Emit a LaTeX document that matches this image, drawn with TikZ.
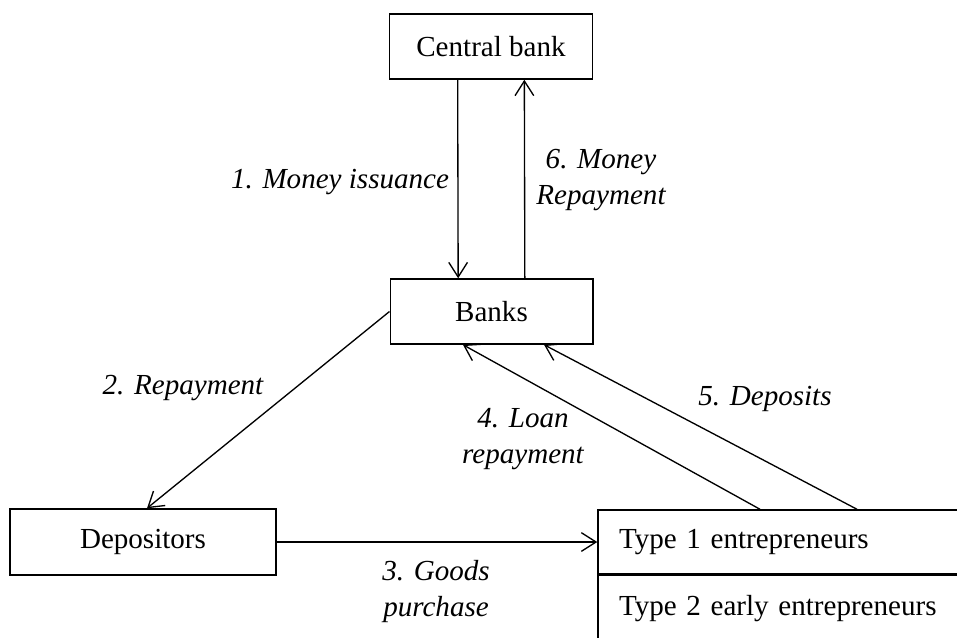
\documentclass[tikz,border=0pt]{standalone}
\usepackage{fontspec}
\setmainfont{Liberation Serif}
\usetikzlibrary{arrows.meta}
\begin{document}
\begin{tikzpicture}[x=0.75pt,y=-0.75pt,
  box/.style={draw,line width=1.1pt,rectangle,inner sep=0pt,font=\fontsize{21.8}{27}\selectfont},
  arr/.style={line width=1pt,-{Straight Barb[length=11pt,width=14pt,line width=1pt]}},
  lbl/.style={font=\fontsize{21.8}{27}\selectfont\itshape,align=center,inner sep=0pt}]
\useasboundingbox (0,0) rectangle (957,637);
\node[box,minimum width=151.9pt,minimum height=48.75pt] (cb) at (491,46.5) {Central bank};
\node[box,minimum width=151.9pt,minimum height=48.75pt] (banks) at (491.5,311.5) {Banks};
\node[box,minimum width=199.5pt,minimum height=49.5pt] (dep) at (143,542) {Depositors};
\node[box,minimum width=271.5pt,minimum height=48pt,text width=240pt,align=left,inner xsep=15.75pt] (t1) at (779,542) {Type 1 entrepreneurs};
\node[box,minimum width=271.5pt,minimum height=49.5pt,text width=240pt,align=left,inner xsep=15.75pt,anchor=north] (t2) at (t1.south) {Type 2 early entrepreneurs};

\draw[arr] ([xshift=-25pt]cb.south) -- ([xshift=-25pt]banks.north);
\draw[arr] ([xshift=25pt]banks.north) -- ([xshift=25pt]cb.south);
\draw[arr] (banks.west) -- ([xshift=3pt]dep.north);
\draw[arr] (dep.east) -- (t1.west);
\draw[arr] ([xshift=-14.25pt]t1.north) -- ([xshift=-21.4pt]banks.south);
\draw[arr] ([xshift=58.5pt]t1.north) -- ([xshift=39.4pt]banks.south);

\node[lbl] (l1) at (340,182) {1. Money issuance};
\node[lbl] (l6) at (601,180) {6. Money\\Repayment};
\node[lbl] (l2) at (183,388) {2. Repayment};
\node[lbl] (l4) at (523,439) {4. Loan\\repayment};
\node[lbl] (l5) at (765,399) {5. Deposits};
\node[lbl] (l3) at (436,591) {3. Goods\\purchase};
\end{tikzpicture}
\end{document}
